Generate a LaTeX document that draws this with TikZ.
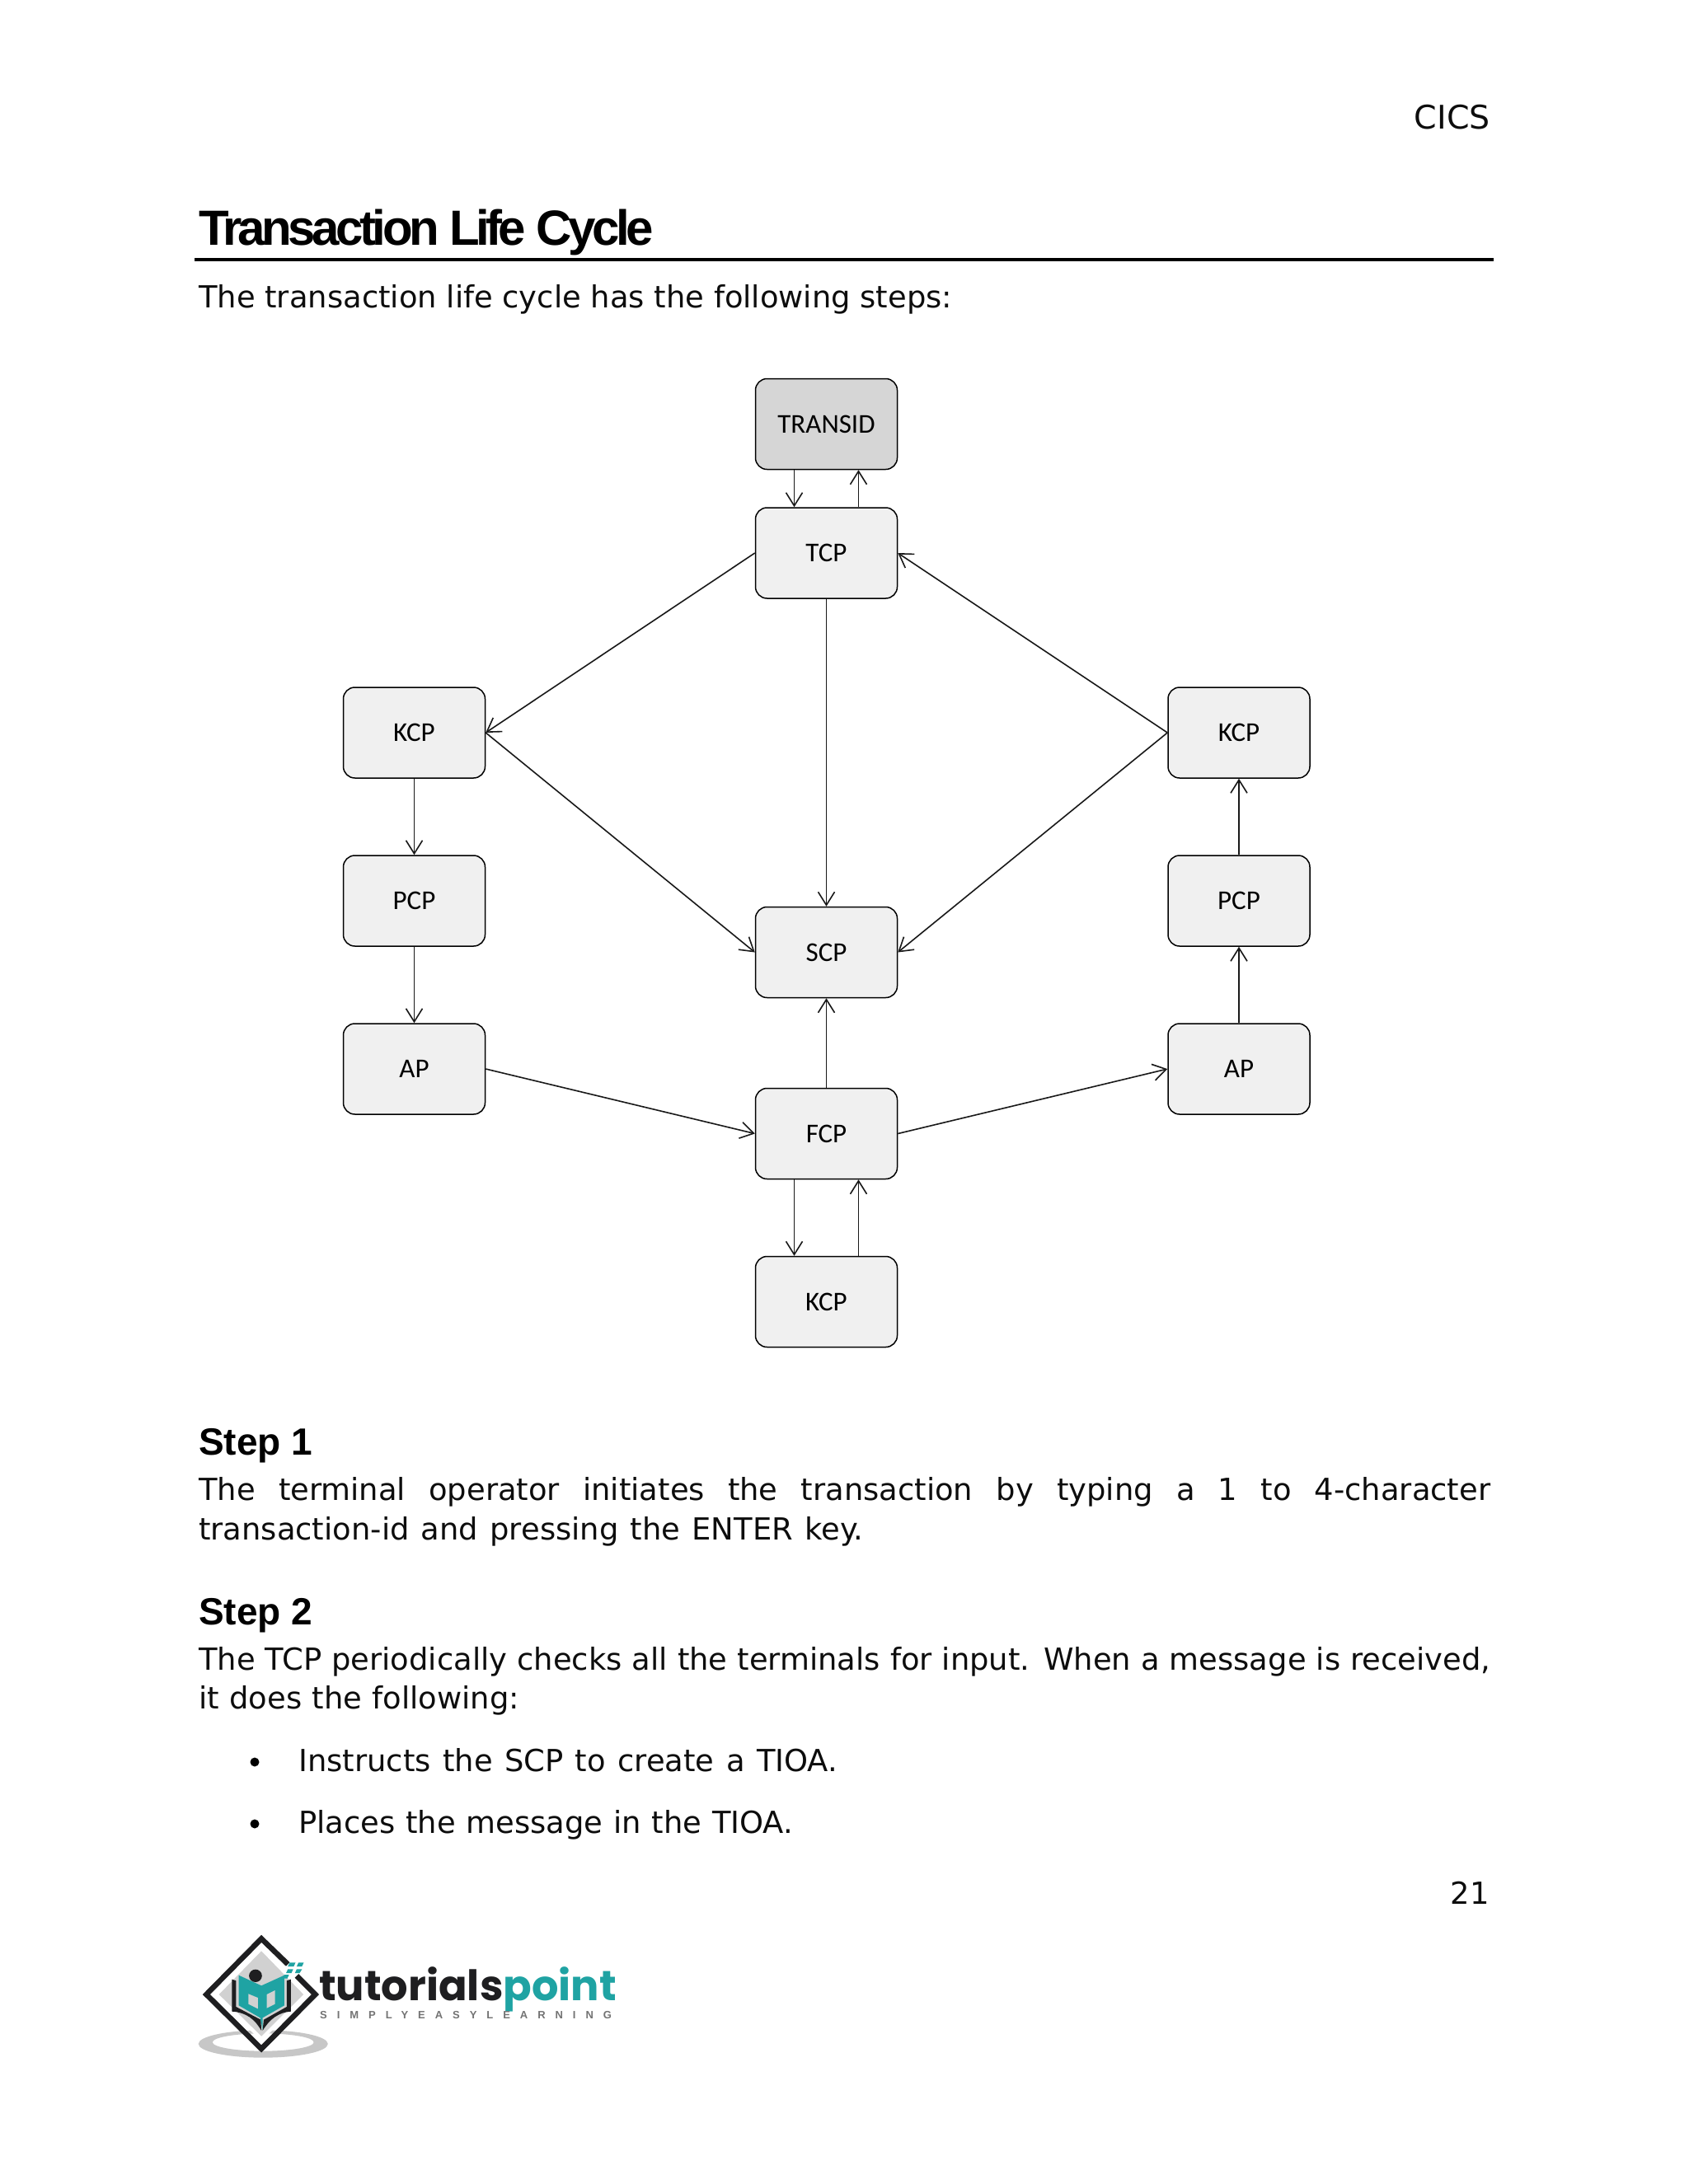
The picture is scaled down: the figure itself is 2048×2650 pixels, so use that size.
\documentclass[tikz,border=0pt]{standalone}
\usepackage{fontspec}
\usetikzlibrary{arrows.meta,calc}
\setmainfont{DejaVu Sans}
\newfontfamily\headfont[LetterSpace=-7.5]{Liberation Sans}
\newfontfamily\stepfont{Liberation Sans}
\newfontfamily\boxfont{Carlito}
\newfontfamily\logofont{Poppins}
\newfontfamily\logosub[LetterSpace=92]{Liberation Sans}
\definecolor{teal1}{HTML}{1FA3A3}
\definecolor{logoblack}{HTML}{1E1E20}
\tikzset{
  body/.style={anchor=base west,inner sep=0pt,font=\fontsize{36.9}{36.9}\selectfont,text=black!95},
  bodyr/.style={anchor=base east,inner sep=0pt,font=\fontsize{36.9}{36.9}\selectfont,text=black!95},
  stephead/.style={anchor=base west,inner sep=0pt,font=\stepfont\bfseries\fontsize{46}{46}\selectfont},
  proc/.style={draw=black,line width=1.5pt,rounded corners=14pt,minimum width=172pt,minimum height=110pt,inner sep=0pt,fill=black!6,font=\boxfont\fontsize{33}{33}\selectfont},
  conn/.style={draw=black!90,line width=1.6pt,-{Straight Barb[length=16pt,width=20pt,line width=1.6pt]}},
}
\begin{document}
\begin{tikzpicture}[x=1pt,y=-1pt]
\useasboundingbox (0,0) rectangle (2048,2650);
\fill[white] (0,0) rectangle (2048,2650);
% page text
\node[bodyr,font=\fontsize{39.5}{39.5}\selectfont] (hdr) at (1808,156) {CICS};
\node[anchor=base west,inner sep=0pt,font=\headfont\bfseries\fontsize{60}{60}\selectfont] (title) at (241,297) {Transaction Life Cycle};
\coordinate (ruleL) at (236,315);
\coordinate (ruleR) at (1812,315);
\draw[line width=3.5pt,black] (ruleL) -- (ruleR);
\node[body] (intro) at (241,373) {The transaction life cycle has the following steps:};
\node[stephead] (s1) at (241,1765) {Step 1};
\node[body] (s1a) at (241,1820.5) {\makebox[1567pt][s]{The terminal operator initiates the transaction by typing a 1 to 4-character}};
\node[body] (s1b) at (241,1868) {\makebox[806pt][s]{transaction-id and pressing the ENTER key.}};
\node[stephead] (s2) at (241,1971) {Step 2};
\node[body] (s2a) at (241,2026) {\makebox[1567pt][s]{The TCP periodically checks all the terminals for input. When a message is received,}};
\node[body] (s2b) at (241,2073.5) {\makebox[389pt][s]{it does the following:}};
\node[circle,fill=black,inner sep=0pt,minimum size=11pt] (b1) at (309,2138) {};
\node[body] (b1t) at (362,2149) {\makebox[654pt][s]{Instructs the SCP to create a TIOA.}};
\node[circle,fill=black,inner sep=0pt,minimum size=11pt] (b2) at (309,2213) {};
\node[body] (b2t) at (362,2224) {\makebox[600pt][s]{Places the message in the TIOA.}};
\node[bodyr] (pg) at (1807,2310) {21};
% diagram
\node[proc,fill=black!16] (transid) at (1002.5,514.5) {TRANSID};
\node[proc] (tcp) at (1002.5,671) {TCP};
\node[proc] (kcpl) at (502.5,889) {KCP};
\node[proc] (pcpl) at (502.5,1093) {PCP};
\node[proc] (apl) at (502.5,1297) {AP};
\node[proc] (scp) at (1002.5,1155.5) {SCP};
\node[proc] (fcp) at (1002.5,1375.5) {FCP};
\node[proc] (kcpb) at (1002.5,1579.5) {KCP};
\node[proc] (kcpr) at (1503,889) {KCP};
\node[proc] (pcpr) at (1503,1093) {PCP};
\node[proc] (apr) at (1503,1297) {AP};
\draw[conn] ([xshift=-39pt]transid.south) -- ([xshift=-39pt]tcp.north);
\draw[conn] ([xshift=39pt]tcp.north) -- ([xshift=39pt]transid.south);
\draw[conn] (tcp.west) -- (kcpl.east);
\draw[conn] (tcp.south) -- (scp.north);
\draw[conn] (kcpr.west) -- (tcp.east);
\draw[conn] (kcpl.east) -- (scp.west);
\draw[conn] (kcpr.west) -- (scp.east);
\draw[conn] (kcpl.south) -- (pcpl.north);
\draw[conn] (pcpl.south) -- (apl.north);
\draw[conn] (apl.east) -- (fcp.west);
\draw[conn] (fcp.east) -- (apr.west);
\draw[conn] (fcp.north) -- (scp.south);
\draw[conn] (apr.north) -- (pcpr.south);
\draw[conn] (pcpr.north) -- (kcpr.south);
\draw[conn] ([xshift=-39pt]fcp.south) -- ([xshift=-39pt]kcpb.north);
\draw[conn] ([xshift=39pt]kcpb.north) -- ([xshift=39pt]fcp.south);
% logo
\begin{scope}[shift={(220,2320)},x=0.357pt,y=-0.3333pt]
  \fill[black!22,even odd rule] (278,480) ellipse [x radius=220,y radius=50] (278,474) ellipse [x radius=172,y radius=32];
  \fill[white] (272,125) -- (432,300) -- (272,470) -- (108,300) -- cycle;
  \fill[black!18] (272,142) -- (415,300) -- (272,452) -- (128,300) -- cycle;
  \draw[logoblack,line width=6.5pt,line join=miter] (362,190) -- (272,97) -- (85,300) -- (272,498) -- (455,300) -- (392,232);
  \fill[logoblack] (172,245) -- (186,250) -- (186,345) -- (270,392) -- (272,432) .. controls (250,390) and (220,365) .. (172,362) -- cycle;
  \fill[logoblack] (372,245) -- (358,250) -- (358,345) -- (280,392) -- (276,432) .. controls (300,390) and (330,365) .. (372,362) -- cycle;
  \fill[teal1] (195,230) -- (272,268) -- (350,230) -- (350,340) -- (276,385) -- (276,428) -- (268,385) -- (195,340) -- cycle;
  \fill[black!18] (228,298) -- (260,312) -- (260,352) -- (228,335) -- cycle;
  \fill[black!18] (290,300) -- (318,285) -- (318,335) -- (290,350) -- cycle;
  \fill[logoblack] (252,232) ellipse [x radius=22,y radius=23];
  \fill[teal1] (368,184) -- (388,184) -- (382,198) -- (362,198) -- cycle;
  \fill[teal1] (398,184) -- (416,184) -- (410,198) -- (392,198) -- cycle;
  \fill[teal1] (362,208) -- (380,208) -- (374,222) -- (356,222) -- cycle;
  \fill[teal1] (392,208) -- (410,208) -- (402,222) -- (386,222) -- cycle;
  \fill[teal1] (350,228) -- (366,228) -- (360,242) -- (344,242) -- cycle;
\end{scope}
\node[anchor=base west,inner sep=0pt,font=\logofont\bfseries\fontsize{51}{51}\selectfont] (logo) at (387,2427) {\textcolor{logoblack}{tutorials}\textcolor{teal1}{point}};
\node[anchor=base west,inner sep=0pt,font=\logosub\bfseries\fontsize{13}{13}\selectfont,text=black!55] (logosub) at (388,2449) {SIMPLYEASYLEARNING};
\end{tikzpicture}
\end{document}
